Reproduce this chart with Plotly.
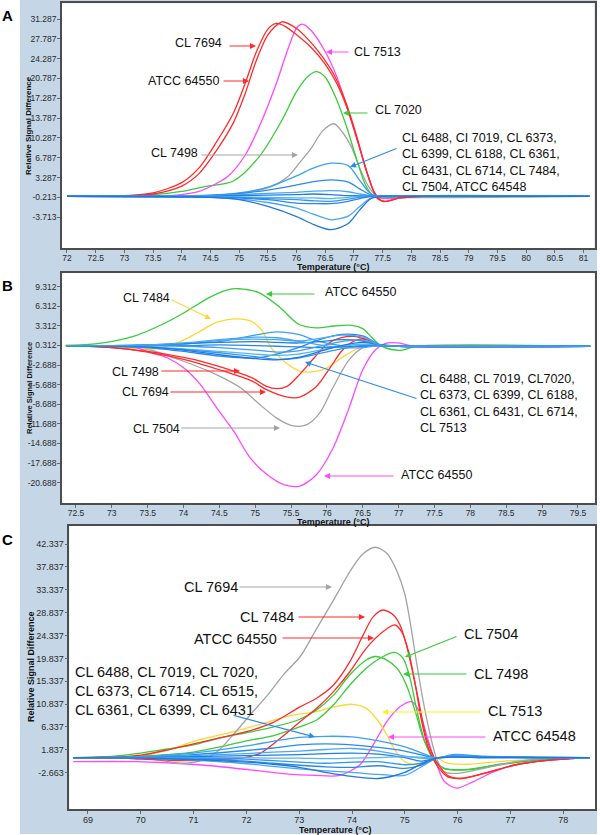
import plotly.graph_objects as go

W, H = 600, 835

# ---------------- Panel A data ----------------
A_R1_x = [72.0, 73.0, 73.5, 74.0, 74.3, 74.6, 74.9, 75.1, 75.3, 75.5, 75.65, 75.8, 76.0, 76.25, 76.5, 76.7, 76.9, 77.1, 77.25, 77.4, 77.55, 77.8, 78.2, 81.1]
A_R1_y = [0, 0.1, 0.6, 2.4, 5.0, 9.5, 14.7, 19.8, 25.5, 29.5, 30.5, 30.0, 28.5, 26.3, 23.3, 19.9, 15.0, 8.5, 3.5, -0.3, -0.9, -0.3, 0, 0]
A_R2_x = [72.0, 73.0, 73.5, 74.0, 74.3, 74.6, 74.9, 75.1, 75.3, 75.5, 75.75, 76.0, 76.2, 76.4, 76.65, 76.85, 77.05, 77.2, 77.35, 77.5, 77.8, 78.2, 81.1]
A_R2_y = [0, 0.05, 0.4, 1.8, 4.0, 8.0, 13.0, 18.0, 24.0, 28.5, 30.8, 29.6, 27.7, 25.3, 21.5, 16.8, 10.5, 5.0, 0.8, -0.9, -0.3, 0, 0]
A_MAG_x = [72.0, 73.5, 74.0, 74.3, 74.8, 75.1, 75.35, 75.65, 75.85, 76.0, 76.1, 76.25, 76.5, 76.7, 76.9, 77.1, 77.25, 77.4, 77.6, 78.0, 81.1]
A_MAG_y = [0, 0, 0.3, 0.85, 3.5, 7.2, 12.3, 20.0, 26.0, 29.7, 30.4, 29.3, 25.5, 21.1, 15.0, 8.5, 3.5, 0.0, -0.4, 0, 0]
A_GRN_x = [72.0, 73.0, 73.5, 74.0, 74.4, 74.9, 75.35, 75.75, 76.0, 76.2, 76.35, 76.5, 76.7, 76.87, 77.05, 77.2, 77.35, 77.5, 77.8, 81.1]
A_GRN_y = [0, 0.05, 0.3, 0.85, 1.7, 2.7, 7.0, 13.5, 18.5, 21.2, 22.0, 21.0, 17.0, 12.3, 6.4, 2.0, 0.0, -0.4, 0, 0]
A_GRY_x = [72.0, 74.5, 75.0, 75.25, 75.55, 75.85, 76.05, 76.25, 76.45, 76.65, 76.8, 76.95, 77.1, 77.25, 77.4, 77.6, 81.1]
A_GRY_y = [0, 0.1, 0.4, 0.85, 1.7, 3.5, 5.9, 8.4, 11.5, 12.8, 11.3, 8.8, 5.0, 1.8, 0, -0.2, 0]
A_BLUE_x = [72.0, 74.5, 75.0, 75.5, 76.0, 76.3, 76.6, 76.9, 77.1, 77.3, 77.5, 78.0, 81.1]
A_BLUE_1 = [0, 0.2, 0.6, 1.6, 3.6, 5.0, 5.85, 5.4, 2.8, 0.4, 0, 0, 0]
A_BLUE_2 = [0, 0.15, 0.5, 1.1, 2.0, 2.6, 2.9, 2.5, 1.3, 0.2, 0, 0, 0]
A_BLUE_3 = [0, 0.1, 0.3, 0.5, 0.7, 0.9, 1.0, 0.8, 0.4, 0.1, 0, 0, 0]
A_BLUE_4 = [0, 0.05, 0.1, 0.2, 0.3, 0.4, 0.3, 0.1, 0.1, 0, 0, 0, 0]
A_BLUE_5 = [0, 0, -0.1, -0.2, -0.3, -0.3, -0.4, -0.2, 0, 0, 0, 0, 0]
A_BLUE_6 = [0, -0.1, -0.2, -0.4, -0.6, -0.8, -0.9, -0.5, -0.2, 0, 0, 0, 0]
A_BLUE_7 = [0, -0.1, -0.3, -0.6, -1.2, -1.3, -1.3, -0.9, -0.4, 0, 0, 0, 0]
A_BLUE_8 = [0, -0.2, -0.5, -1.1, -2.1, -3.2, -4.15, -3.5, -1.8, -0.3, 0, 0, 0]
A_BLUE_9 = [0, -0.2, -0.6, -1.8, -3.6, -5.0, -5.9, -4.8, -2.4, -0.4, 0, 0, 0]
A_BLUES = [A_BLUE_1, A_BLUE_2, A_BLUE_3, A_BLUE_4, A_BLUE_5, A_BLUE_6, A_BLUE_7, A_BLUE_8, A_BLUE_9]

A_xticks = [72, 72.5, 73, 73.5, 74, 74.5, 75, 75.5, 76, 76.5, 77, 77.5, 78, 78.5, 79, 79.5, 80, 80.5, 81]
A_xtext = ["72", "72.5", "73", "73.5", "74", "74.5", "75", "75.5", "76", "76.5", "77", "77.5", "78", "78.5", "79", "79.5", "80", "80.5", "81"]
A_yticks = [-3.713, -0.213, 3.287, 6.787, 10.287, 13.787, 17.287, 20.787, 24.287, 27.787, 31.287]
A_ytext = ["-3.713", "-0.213", "3.287", "6.787", "10.287", "13.787", "17.287", "20.787", "24.287", "27.787", "31.287"]

# ---------------- Panel B data ----------------
B_GRN_x = [72.36, 72.8, 73.3, 73.75, 74.05, 74.35, 74.6, 74.77, 75.05, 75.35, 75.6, 75.85, 76.1, 76.35, 76.5, 76.62, 76.75, 76.9, 77.05, 77.25, 79.67]
B_GRN_y = [0.3, 0.6, 1.7, 3.8, 5.6, 7.6, 8.8, 9.0, 8.4, 6.1, 3.6, 3.0, 3.3, 3.4, 2.9, 1.6, 0.3, -0.3, -0.4, 0.2, 0.2]
B_YEL_x = [72.36, 73.0, 73.6, 73.95, 74.2, 74.45, 74.74, 74.95, 75.1, 75.22, 75.4, 75.62, 75.82, 76.0, 76.2, 76.4, 76.6, 76.8, 77.0, 79.67]
B_YEL_y = [0.4, 0.2, -0.2, 0.9, 2.3, 3.8, 4.4, 4.0, 2.5, 0.0, -2.1, -3.6, -3.7, -3.1, -1.6, -0.3, 0.4, 0.3, 0.2, 0.2]
B_R1_x = [72.36, 73.0, 73.5, 74.0, 74.25, 74.7, 74.95, 75.15, 75.3, 75.45, 75.62, 75.82, 76.0, 76.2, 76.38, 76.55, 76.75, 77.0, 79.67]
B_R1_y = [0.3, 0.0, -0.6, -1.5, -2.1, -3.6, -4.6, -5.9, -6.3, -5.9, -4.1, -1.6, 0.5, 1.5, 1.7, 1.2, 0.3, 0.2, 0.2]
B_R2_x = [72.36, 73.0, 73.5, 74.0, 74.5, 74.95, 75.15, 75.45, 75.62, 75.85, 76.05, 76.2, 76.38, 76.55, 76.75, 77.0, 79.67]
B_R2_y = [0.3, 0.0, -0.7, -1.8, -3.4, -5.1, -6.4, -7.6, -7.6, -6.0, -3.0, -0.6, 1.0, 1.3, 0.3, 0.2, 0.2]
B_GRY_x = [72.36, 73.0, 73.5, 74.0, 74.45, 74.8, 75.05, 75.3, 75.53, 75.72, 75.9, 76.08, 76.3, 76.5, 76.75, 77.0, 79.67]
B_GRY_y = [0.3, 0.1, -0.3, -2.1, -4.1, -6.2, -8.6, -10.8, -12.0, -11.8, -10.0, -6.2, -2.0, 0.0, 0.4, 0.2, 0.2]
B_MAG_x = [72.36, 73.0, 73.3, 73.55, 73.78, 74.0, 74.23, 74.46, 74.7, 74.93, 75.16, 75.4, 75.62, 75.85, 76.08, 76.3, 76.5, 76.68, 76.85, 77.0, 77.2, 79.67]
B_MAG_y = [0.2, 0.2, 0.1, -0.8, -1.6, -3.1, -5.6, -9.2, -12.8, -16.9, -19.4, -21.0, -21.2, -19.5, -15.5, -9.5, -3.4, -0.3, 0.7, 0.7, 0.2, 0.2]
B_BLUE_x = [72.36, 73.0, 73.5, 74.0, 74.5, 75.0, 75.3, 75.6, 75.9, 76.2, 76.5, 76.75, 77.0, 79.67]
B_BLUE_1 = [0.3, 0.3, 0.4, 0.6, 0.9, 1.9, 2.4, 2.0, 0.9, 0.3, 0.2, 0.3, 0.2, 0.2]
B_BLUE_2 = [0.3, 0.2, 0.0, -0.6, -1.3, -1.6, -1.0, 0.0, 1.2, 2.0, 1.8, 0.4, 0.2, 0.2]
B_BLUE_3 = [0.3, 0.3, 0.3, 0.5, 1.1, 1.3, 1.2, 1.0, 1.4, 1.9, 1.6, 0.4, 0.2, 0.2]
B_BLUE_4 = [0.3, 0.3, 0.4, 0.6, 0.8, 0.9, 0.8, 0.7, 0.9, 1.2, 1.0, 0.4, 0.2, 0.2]
B_BLUE_5 = [0.3, 0.2, 0.1, -0.2, -0.6, -1.0, -1.2, -1.0, -0.4, 0.2, 0.5, 0.3, 0.2, 0.2]
B_BLUE_6 = [0.3, 0.2, 0.0, -0.3, -0.8, -1.4, -1.8, -1.6, -0.9, -0.2, 0.3, 0.3, 0.2, 0.2]
B_BLUE_7 = [0.3, 0.3, 0.3, 0.3, 0.4, 0.3, 0.2, 0.1, 0.0, 0.1, 0.2, 0.3, 0.2, 0.2]
B_BLUE_8 = [0.3, 0.3, 0.4, 0.7, 1.2, 1.6, 1.5, 1.0, 0.4, 0.0, 0.0, 0.3, 0.2, 0.2]
B_BLUE_9 = [0.3, 0.2, 0.1, -0.4, -1.1, -1.7, -1.9, -1.5, -0.6, 0.3, 0.8, 0.4, 0.2, 0.2]
B_BLUE_10 = [0.3, 0.3, 0.3, 0.2, 0.0, -0.4, -0.7, -0.5, 0.2, 0.9, 1.1, 0.4, 0.2, 0.2]
B_BLUES = [B_BLUE_1, B_BLUE_2, B_BLUE_3, B_BLUE_4, B_BLUE_5, B_BLUE_6, B_BLUE_7, B_BLUE_8, B_BLUE_9, B_BLUE_10]

B_xticks = [72.5, 73, 73.5, 74, 74.5, 75, 75.5, 76, 76.5, 77, 77.5, 78, 78.5, 79, 79.5]
B_xtext = ["72.5", "73", "73.5", "74", "74.5", "75", "75.5", "76", "76.5", "77", "77.5", "78", "78.5", "79", "79.5"]
B_yticks = [-20.688, -17.688, -14.688, -11.688, -8.688, -5.688, -2.688, 0.312, 3.312, 6.312, 9.312]
B_ytext = ["-20.688", "-17.688", "-14.688", "-11.688", "-8.688", "-5.688", "-2.688", "0.312", "3.312", "6.312", "9.312"]

# ---------------- Panel C data ----------------
C_GRY_x = [68.72, 69.5, 70.0, 70.4, 70.75, 71.1, 71.45, 71.75, 72.07, 72.4, 72.7, 73.02, 73.33, 73.65, 73.96, 74.2, 74.44, 74.66, 74.85, 75.0, 75.1, 75.22, 75.35, 75.48, 75.6, 75.75, 76.0, 76.5, 77.1, 77.6, 78.5]
C_GRY_y = [0.3, 0.3, 0.2, -0.3, -0.8, -0.4, 1.5, 4.8, 8.7, 12.6, 16.6, 20.2, 25.7, 31.3, 36.9, 40.3, 41.7, 40.5, 37.0, 32.5, 27.0, 19.2, 11.3, 4.8, 0.2, -2.5, -2.8, -1.8, -0.5, 0.1, 0.3]
C_R1_x = [68.72, 69.5, 70.0, 70.5, 71.0, 71.5, 72.0, 72.5, 73.0, 73.33, 73.65, 73.96, 74.2, 74.4, 74.59, 74.78, 74.91, 75.03, 75.16, 75.29, 75.41, 75.6, 75.8, 76.05, 76.5, 77.1, 77.75, 78.5]
C_R1_y = [0.3, 0.4, 0.8, 1.8, 3.0, 4.2, 5.4, 7.2, 10.2, 12.0, 14.6, 19.2, 24.2, 28.0, 29.35, 28.4, 26.4, 22.5, 16.6, 10.0, 4.1, -0.5, -3.1, -3.8, -2.8, -1.1, -0.2, 0.3]
C_R2_x = [68.72, 69.5, 70.0, 70.5, 71.0, 71.5, 71.9, 72.26, 72.7, 73.02, 73.33, 73.65, 73.96, 74.27, 74.59, 74.81, 74.94, 75.07, 75.2, 75.32, 75.45, 75.6, 75.8, 76.05, 76.5, 77.1, 77.75, 78.5]
C_R2_y = [0.3, 0.3, 0.0, -0.2, -0.3, -0.1, 0.2, 1.15, 4.6, 7.4, 10.0, 13.3, 17.2, 21.8, 25.1, 26.4, 25.1, 21.2, 14.6, 7.4, 2.1, -1.1, -3.4, -3.8, -2.8, -1.1, -0.2, 0.3]
C_G1_x = [68.72, 69.5, 70.0, 70.5, 71.0, 71.5, 72.0, 72.5, 73.0, 73.33, 73.65, 73.96, 74.27, 74.44, 74.66, 74.85, 75.03, 75.2, 75.35, 75.54, 75.73, 76.17, 76.8, 77.5, 78.5]
C_G1_y = [0.3, 0.6, 1.2, 2.0, 2.8, 4.2, 5.2, 6.3, 7.8, 9.7, 12.6, 16.6, 19.5, 20.2, 19.5, 17.9, 14.6, 9.3, 4.1, 0.2, -1.8, -2.1, -1.1, -0.2, 0.3]
C_G2_x = [68.72, 69.5, 70.0, 70.5, 71.0, 71.5, 72.0, 72.5, 73.02, 73.33, 73.65, 73.96, 74.27, 74.59, 74.81, 74.97, 75.1, 75.22, 75.38, 75.57, 75.75, 76.2, 76.8, 77.5, 78.5]
C_G2_y = [0.3, 0.4, 0.6, 0.9, 1.4, 2.4, 3.6, 4.6, 6.4, 7.7, 10.7, 14.6, 17.9, 20.2, 21.0, 19.8, 15.9, 10.0, 3.4, -0.5, -1.8, -2.0, -1.0, -0.2, 0.3]
C_YEL_x = [68.72, 69.5, 70.0, 70.5, 71.1, 71.75, 72.4, 72.85, 73.3, 73.65, 74.0, 74.27, 74.46, 74.66, 74.8, 75.0, 75.25, 75.48, 75.6, 75.8, 76.2, 77.0, 78.5]
C_YEL_y = [0.3, 0.3, 0.5, 1.8, 3.8, 5.4, 7.3, 8.6, 9.3, 10.3, 10.8, 10.0, 8.0, 4.8, 2.0, -0.5, -1.1, -0.5, 0.2, -0.8, -1.0, -0.3, 0.3]
C_MAG_x = [68.72, 69.9, 71.1, 72.07, 72.83, 73.3, 73.77, 74.15, 74.4, 74.66, 74.91, 75.13, 75.29, 75.41, 75.52, 75.62, 75.75, 75.98, 76.3, 76.68, 77.12, 77.75, 78.5]
C_MAG_y = [-0.5, -0.5, -1.1, -2.1, -3.0, -3.2, -3.2, -1.1, 2.8, 7.4, 10.3, 11.3, 9.0, 4.8, 1.2, -1.5, -4.4, -5.7, -4.4, -2.5, -1.1, -0.2, 0.3]
C_BLUE_x = [68.72, 70.0, 71.0, 72.0, 72.5, 73.0, 73.5, 74.0, 74.5, 75.0, 75.3, 75.6, 75.9, 76.5, 77.5, 78.5]
C_BLUE_1 = [0.3, 0.5, 1.2, 2.6, 3.5, 4.3, 4.5, 4.4, 3.6, 2.4, 1.3, 0.2, 0.9, 0.6, 0.4, 0.3]
C_BLUE_2 = [0.3, 0.4, 0.9, 1.7, 2.2, 2.8, 3.0, 2.8, 2.3, 1.6, 0.9, 0.2, 0.7, 0.5, 0.4, 0.3]
C_BLUE_3 = [0.3, 0.4, 0.7, 1.1, 1.4, 1.6, 1.9, 2.1, 1.6, 0.6, 0.2, 0.2, 0.6, 0.5, 0.3, 0.3]
C_BLUE_4 = [0.3, 0.3, 0.5, 0.7, 0.8, 0.9, 1.1, 1.2, 1.0, 0.3, -0.4, 0.2, 0.5, 0.4, 0.3, 0.3]
C_BLUE_5 = [0.3, 0.3, 0.3, 0.3, 0.2, 0.2, 0.1, 0.2, 0.3, 0.5, 0.4, 0.2, 0.4, 0.3, 0.3, 0.3]
C_BLUE_6 = [0.3, 0.3, 0.2, 0.0, -0.3, -0.6, -0.8, -0.6, -0.5, -1.1, -0.8, 0.2, 0.5, 0.4, 0.3, 0.3]
C_BLUE_7 = [0.3, 0.2, 0.0, -0.4, -0.8, -1.2, -1.5, -1.6, -1.3, -1.8, -1.2, 0.2, 0.5, 0.4, 0.3, 0.3]
C_BLUE_8 = [0.3, 0.2, -0.2, -0.9, -1.4, -1.9, -2.3, -2.6, -3.0, -3.2, -1.6, 0.2, 0.4, 0.3, 0.3, 0.3]
C_BLUE_9 = [0.3, 0.2, -0.1, -0.6, -1.0, -1.6, -2.6, -3.4, -3.8, -2.6, -1.0, 0.2, 0.4, 0.3, 0.3, 0.3]
C_BLUES = [C_BLUE_1, C_BLUE_2, C_BLUE_3, C_BLUE_4, C_BLUE_5, C_BLUE_6, C_BLUE_7, C_BLUE_8, C_BLUE_9]

C_xticks = [69, 70, 71, 72, 73, 74, 75, 76, 77, 78]
C_xtext = ["69", "70", "71", "72", "73", "74", "75", "76", "77", "78"]
C_yticks = [-2.663, 1.837, 6.337, 10.837, 15.337, 19.837, 24.337, 28.837, 33.337, 37.837, 42.337]
C_ytext = ["-2.663", "1.837", "6.337", "10.837", "15.337", "19.837", "24.337", "28.837", "33.337", "37.837", "42.337"]

# ---------------- styling ----------------
RED = "#ff2a2a"
MAG = "#ff48ff"
GRN = "#38cc38"
GRY = "#a3a3a3"
YEL = "#ffd633"
BLUES = ["#3ba0f5", "#2a8ae8", "#4aa8f0", "#1f7fe0", "#55b4f8", "#3396ef", "#2b86e6", "#48a6f2", "#1e78dc", "#3c9ff2"]
BG = "#c5d7e7"
FONT = "Liberation Sans, Arial, sans-serif"

fig = go.Figure()


def line(x, y, color, ax, width=1.3):
    fig.add_trace(go.Scatter(x=x, y=y, mode="lines", xaxis="x" + ax, yaxis="y" + ax,
                             line=dict(color=color, width=width, shape="spline", smoothing=0.8),
                             hoverinfo="skip", showlegend=False))


# Panel A traces (coloured curves first, blue group on top as in the reference)
line(A_GRY_x, A_GRY_y, GRY, "")
line(A_GRN_x, A_GRN_y, GRN, "")
line(A_MAG_x, A_MAG_y, MAG, "")
line(A_R1_x, A_R1_y, RED, "")
line(A_R2_x, A_R2_y, RED, "")
for i, b in enumerate(A_BLUES):
    line(A_BLUE_x, b, BLUES[i % len(BLUES)], "")

# Panel B traces
line(B_GRY_x, B_GRY_y, GRY, "2")
line(B_YEL_x, B_YEL_y, YEL, "2")
line(B_GRN_x, B_GRN_y, GRN, "2")
line(B_MAG_x, B_MAG_y, MAG, "2")
line(B_R1_x, B_R1_y, RED, "2")
line(B_R2_x, B_R2_y, RED, "2")
for i, b in enumerate(B_BLUES):
    line(B_BLUE_x, b, BLUES[i % len(BLUES)], "2")

# Panel C traces
line(C_MAG_x, C_MAG_y, MAG, "3")
line(C_YEL_x, C_YEL_y, YEL, "3")
line(C_G1_x, C_G1_y, GRN, "3")
line(C_G2_x, C_G2_y, GRN, "3")
line(C_GRY_x, C_GRY_y, GRY, "3")
line(C_R2_x, C_R2_y, RED, "3")
line(C_R1_x, C_R1_y, RED, "3")
for i, b in enumerate(C_BLUES):
    line(C_BLUE_x, b, BLUES[i % len(BLUES)], "3")


def px(x):
    return x / W


def py(y):
    return 1 - y / H


# plot frames in pixels (left, right, top, bottom)
FA = (62, 594.5, 3.3, 248.3)
FB = (62, 594.7, 272.7, 503.3)
FC = (69.3, 595, 525.5, 809)


def axes(frame, xr, yr, xt, xtxt, yt, ytxt, anchor_x, anchor_y, fs):
    l, r, t, b = frame
    common = dict(showgrid=False, zeroline=False, showline=True, linecolor="#4d4d4d", linewidth=1.5,
                  mirror=True, ticks="outside", ticklen=3, tickcolor="#6a6a6a", tickwidth=1,
                  tickmode="array", tickfont=dict(family=FONT, size=fs, color="#2a2a2a"))
    xa = dict(common, domain=[px(l), px(r)], range=xr, tickvals=xt, ticktext=xtxt, anchor=anchor_y,
              ticklabelstandoff=-2)
    ya = dict(common, domain=[py(b), py(t)], range=yr, tickvals=yt, ticktext=ytxt, anchor=anchor_x,
              ticklabelstandoff=-1)
    return xa, ya


xa1, ya1 = axes(FA, [71.913, 81.19], [-9.184, 34.06], A_xticks, A_xtext, A_yticks, A_ytext, "x", "y", 8.5)
xa2, ya2 = axes(FB, [72.305, 79.734], [-23.841, 11.455], B_xticks, B_xtext, B_yticks, B_ytext, "x2", "y2", 8.5)
xa3, ya3 = axes(FC, [68.646, 78.602], [-9.806, 45.977], C_xticks, C_xtext, C_yticks, C_ytext, "x3", "y3", 9)

shapes = [
    dict(type="rect", xref="paper", yref="paper", x0=px(20), x1=px(597), y0=py(834), y1=py(0),
         fillcolor=BG, line=dict(width=0), layer="below"),
]
for f in (FA, FB, FC):
    shapes.append(dict(type="rect", xref="paper", yref="paper", x0=px(f[0]), x1=px(f[1]), y0=py(f[3]), y1=py(f[2]),
                       fillcolor="white", line=dict(width=0), layer="below"))

ann = []


def text(s, x, y, size, anchor="middle", weight="normal", color="#111111"):
    ann.append(dict(text=s, x=px(x), y=py(y), xref="paper", yref="paper", showarrow=False,
                    xanchor="left", yanchor=anchor, align="left",
                    font=dict(family=FONT, size=size, color=color, weight=weight)))


def arrow(tail, head, color):
    ann.append(dict(text="", x=px(head[0]), y=py(head[1]), xref="paper", yref="paper",
                    ax=tail[0] - head[0], ay=tail[1] - head[1], axref="pixel", ayref="pixel",
                    showarrow=True, arrowhead=2, arrowsize=1.1, arrowwidth=1.1, arrowcolor=color, standoff=0))


# panel letters
for s, y in (("A", 15), ("B", 285), ("C", 539)):
    ann.append(dict(text=s, x=px(7), y=py(y), xref="paper", yref="paper", showarrow=False,
                    xanchor="center", yanchor="middle", font=dict(family=FONT, size=15, color="black", weight="bold")))

# axis titles
for cx, cy, fs in ((29, 126, 8), (29, 388, 7.5), (31, 667, 9)):
    ann.append(dict(text="Relative Signal Difference", x=px(cx), y=py(cy), xref="paper", yref="paper",
                    showarrow=False, textangle=-90, xanchor="center", yanchor="middle",
                    font=dict(family=FONT, size=fs, color="#111111", weight="bold")))
for cx, cy in ((333, 266.5), (333, 522), (335, 829.5)):
    ann.append(dict(text="Temperature (°C)", x=px(cx), y=py(cy), xref="paper", yref="paper",
                    showarrow=False, xanchor="center", yanchor="middle",
                    font=dict(family=FONT, size=9, color="#111111", weight="bold")))

# Panel A labels
FSA = 12.5
text("CL 7694", 173, 43, FSA)
arrow((228, 46), (256, 46), RED)
text("ATCC 64550", 146, 81, FSA)
arrow((222, 81), (249, 81), RED)
text("CL 7498", 149, 153, FSA)
arrow((200, 155), (298, 155), GRY)
text("CL 7513", 352, 52, FSA)
arrow((350, 52), (326, 52), MAG)
text("CL 7020", 373, 110, FSA)
arrow((369, 113), (343, 113), GRN)
text("CL 6488, CI 7019, CL 6373,<br>CL 6399, CL 6188, CL 6361,<br>CL 6431, CL 6714, CL 7484,<br>CL 7504, ATCC 64548",
     400, 129, FSA, anchor="top")
arrow((398, 148), (350, 167), "#2b8ce8")

# Panel B labels
FSB = 12.5
text("CL 7484", 121, 298, FSB)
arrow((170, 299), (211, 319), "#f0dc40")
text("ATCC 64550", 323, 292, FSB)
arrow((316, 294), (266, 294), GRN)
text("CL 7498", 110, 372, FSB)
arrow((160, 371), (240, 371), RED)
text("CL 7694", 120, 392, FSB)
arrow((169, 392), (266, 392), RED)
text("CL 7504", 131, 429, FSB)
arrow((180, 428), (280, 428), GRY)
text("ATCC 64550", 399, 475, FSB)
arrow((395, 476), (324, 476), MAG)
text("CL 6488, CL 7019, CL7020,<br>CL 6373, CL 6399, CL 6188,<br>CL 6361, CL 6431, CL 6714,<br>CL 7513",
     418, 370, FSB, anchor="top")
arrow((418, 399), (305, 362), "#2b8ce8")

# Panel C labels
FSC = 14.5
text("CL 7694", 182, 587, FSC)
arrow((238, 587), (332, 587), GRY)
text("CL 7484", 238, 617, FSC)
arrow((297, 617), (365, 617), RED)
text("ATCC 64550", 192, 639, FSC)
arrow((281, 638), (374, 638), RED)
text("CL 7504", 462, 634, FSC)
arrow((458, 636), (405, 657), GRN)
text("CL 7498", 472, 674, FSC)
arrow((468, 674), (403, 674), GRN)
text("CL 7513", 486, 711, FSC)
arrow((482, 712), (382, 712), "#ffee22")
text("ATCC 64548", 491, 736, FSC)
arrow((487, 737), (388, 737), MAG)
text("CL 6488, CL 7019, CL 7020,<br>CL 6373, CL 6714. CL 6515,<br>CL 6361, CL 6399, CL 6431",
     73, 662, FSC, anchor="top")
arrow((232, 715), (315, 737), "#2b8ce8")

fig.update_layout(
    width=W, height=H, margin=dict(l=0, r=0, t=0, b=0),
    paper_bgcolor="white", plot_bgcolor="rgba(0,0,0,0)",
    xaxis=xa1, yaxis=ya1, xaxis2=xa2, yaxis2=ya2, xaxis3=xa3, yaxis3=ya3,
    shapes=shapes, annotations=ann, showlegend=False,
)

fig.write_html("out.html", config={"displayModeBar": False},
               post_script="document.body.style.margin='0';document.body.style.padding='0';"
                           "document.body.style.overflow='hidden';")
